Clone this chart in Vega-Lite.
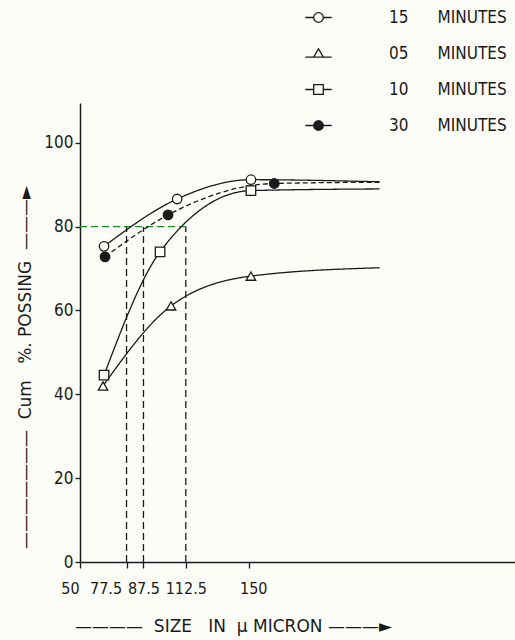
{
  "$schema": "https://vega.github.io/schema/vega-lite/v6.json",
  "width": 435,
  "height": 459,
  "autosize": "none",
  "padding": {"left": 80, "top": 103, "right": 0, "bottom": 78},
  "background": "#fdfdf8",
  "config": {"view": {"stroke": null}, "font": "DejaVu Sans Condensed, Liberation Sans"},
  "datasets": {
    "curves": [
      {"series": "15 MINUTES", "size": 64.2, "pct": 75.3, "measured": true},
      {"series": "15 MINUTES", "size": 107.4, "pct": 86.6, "measured": true},
      {"series": "15 MINUTES", "size": 151, "pct": 91.2, "measured": true},
      {"series": "15 MINUTES", "size": 227, "pct": 90.7, "measured": false},
      {"series": "05 MINUTES", "size": 63.6, "pct": 42.0, "measured": true},
      {"series": "05 MINUTES", "size": 103.8, "pct": 61.1, "measured": true},
      {"series": "05 MINUTES", "size": 151, "pct": 68.2, "measured": true},
      {"series": "05 MINUTES", "size": 227, "pct": 70.2, "measured": false},
      {"series": "10 MINUTES", "size": 64.2, "pct": 44.6, "measured": true},
      {"series": "10 MINUTES", "size": 97.3, "pct": 74.0, "measured": true},
      {"series": "10 MINUTES", "size": 151, "pct": 88.6, "measured": true},
      {"series": "10 MINUTES", "size": 227, "pct": 89.0, "measured": false},
      {"series": "30 MINUTES", "size": 64.8, "pct": 72.8, "measured": true},
      {"series": "30 MINUTES", "size": 102, "pct": 82.8, "measured": true},
      {"series": "30 MINUTES", "size": 164.8, "pct": 90.3, "measured": true},
      {"series": "30 MINUTES", "size": 227, "pct": 90.6, "measured": false}
    ],
    "hguide": [{"from": 50, "to": 112.5, "level": 80}],
    "vguide": [
      {"size": 77.5, "low": 0, "high": 80},
      {"size": 87.5, "low": 0, "high": 80},
      {"size": 112.5, "low": 0, "high": 80}
    ]
  },
  "layer": [
    {
      "data": {"name": "hguide"},
      "mark": {"type": "rule", "stroke": "#1f8a2a", "strokeWidth": 1.4, "strokeDash": [7, 4]},
      "encoding": {
        "x": {
          "field": "from", "type": "quantitative",
          "scale": {"domain": [50, 307], "nice": false, "zero": false},
          "axis": {
            "values": [50, 77.5, 87.5, 112.5, 150],
            "format": ".1~f",
            "grid": false,
            "domainColor": "#1a1a1a", "domainWidth": 1.5,
            "tickColor": "#1a1a1a", "tickWidth": 1.3, "tickSize": 6,
            "labelFontSize": 16, "labelColor": "#1a1a1a", "labelPadding": 12,
            "labelFlush": false, "labelOverlap": false, "labelBound": false,
            "labelOffset": {"condition": [{"test": "datum.value == 50", "value": -10}, {"test": "datum.value == 77.5", "value": -21}, {"test": "datum.value == 150", "value": 4}], "value": 0},
            "title": "\u2014\u2014\u2014\u2014\u00a0 SIZE\u00a0\u00a0 IN\u00a0 \u03bc MICRON\u00a0\u2014\u2014\u2014\u25ba",
            "titleFont": "DejaVu Sans",
            "titleFontSize": 17, "titleFontWeight": "normal", "titleColor": "#1a1a1a",
            "titleX": 153, "titleY": 56
          }
        },
        "x2": {"field": "to"},
        "y": {
          "field": "level", "type": "quantitative",
          "scale": {"domain": [0, 109.5], "nice": false, "zero": true},
          "axis": {
            "values": [0, 20, 40, 60, 80, 100],
            "grid": false,
            "domainColor": "#1a1a1a", "domainWidth": 1.5,
            "tickColor": "#1a1a1a", "tickWidth": 1.3, "tickSize": 5,
            "labelFontSize": 17, "labelColor": "#1a1a1a", "labelPadding": 2,
            "title": "\u2014\u2014\u2014\u2014\u2014\u2014\u2014\u00a0 Cum\u00a0\u00a0 %.\u00a0POSSING\u00a0 \u2014\u2014\u2014\u25ba",
            "titleFont": "DejaVu Sans",
            "titleFontSize": 17, "titleFontWeight": "normal", "titleColor": "#1a1a1a",
            "titleX": -46, "titleY": 264
          }
        }
      }
    },
    {
      "data": {"name": "vguide"},
      "mark": {"type": "rule", "stroke": "#1a1a1a", "strokeWidth": 1.3, "strokeDash": [7, 4]},
      "encoding": {
        "x": {"field": "size", "type": "quantitative"},
        "y": {"field": "low", "type": "quantitative"},
        "y2": {"field": "high"}
      }
    },
    {
      "data": {"name": "curves"},
      "mark": {"type": "line", "interpolate": "monotone", "stroke": "#1a1a1a", "strokeWidth": 1.3},
      "encoding": {
        "x": {"field": "size", "type": "quantitative"},
        "y": {"field": "pct", "type": "quantitative"},
        "detail": {"field": "series"},
        "strokeDash": {
          "field": "series", "type": "nominal",
          "scale": {"domain": ["15 MINUTES", "05 MINUTES", "10 MINUTES", "30 MINUTES"], "range": [[1, 0], [1, 0], [1, 0], [5, 3]]},
          "legend": null
        }
      }
    },
    {
      "data": {"name": "curves"},
      "transform": [{"filter": "datum.measured"}],
      "mark": {"type": "point", "filled": true, "stroke": "#1a1a1a", "strokeWidth": 1.3, "size": 90, "opacity": 1},
      "encoding": {
        "x": {"field": "size", "type": "quantitative"},
        "y": {"field": "pct", "type": "quantitative"},
        "shape": {
          "field": "series", "type": "nominal",
          "scale": {"domain": ["15 MINUTES", "05 MINUTES", "10 MINUTES", "30 MINUTES"], "range": ["circle", "triangle-up", "square", "circle"]},
          "legend": null
        },
        "fill": {
          "field": "series", "type": "nominal",
          "scale": {"domain": ["15 MINUTES", "05 MINUTES", "10 MINUTES", "30 MINUTES"], "range": ["#fdfdf8", "#fdfdf8", "#fdfdf8", "#1a1a1a"]},
          "legend": null
        }
      }
    },
    {
      "data": {"name": "curves"},
      "transform": [{"filter": "false"}],
      "mark": {"type": "point", "filled": false, "stroke": "#1a1a1a", "strokeWidth": 1.3, "size": 144, "opacity": 1},
      "encoding": {
        "shape": {
          "field": "series", "type": "nominal",
          "scale": {
            "domain": ["15 MINUTES", "05 MINUTES", "10 MINUTES", "30 MINUTES"],
            "range": [
              "M-2.2,0H-0.8M0.8,0H2.2M-0.8,0A0.8,0.8 0 1,0 0.8,0A0.8,0.8 0 1,0 -0.8,0Z",
              "M-2.2,0.6H2.2M-0.8,0.6L0,-0.8L0.8,0.6Z",
              "M-2.2,0H-0.8M0.8,0H2.2M-0.8,-0.8H0.8V0.8H-0.8Z",
              "M-2.2,0H-0.8M0.8,0H2.2M-0.8,0A0.8,0.8 0 1,0 0.8,0A0.8,0.8 0 1,0 -0.8,0ZM-0.6,0A0.6,0.6 0 1,0 0.6,0A0.6,0.6 0 1,0 -0.6,0ZM-0.4,0A0.4,0.4 0 1,0 0.4,0A0.4,0.4 0 1,0 -0.4,0ZM-0.2,0A0.2,0.2 0 1,0 0.2,0A0.2,0.2 0 1,0 -0.2,0ZM-0.08,0A0.08,0.08 0 1,0 0.08,0A0.08,0.08 0 1,0 -0.08,0Z"
            ]
          },
          "legend": {
            "orient": "none", "legendX": 230, "legendY": -94,
            "title": null, "padding": 0, "rowPadding": 18,
            "labelFontSize": 17, "labelColor": "#1a1a1a", "labelOffset": 62, "labelLimit": 300,
            "symbolStrokeColor": "#1a1a1a", "symbolStrokeWidth": 1.3, "symbolSize": 144, "symbolOpacity": 1,
            "labelExpr": "replace(datum.label, ' ', '\u00a0\u00a0\u00a0\u00a0\u00a0 ')"
          }
        }
      }
    }
  ],
  "resolve": {"scale": {"shape": "independent", "fill": "independent"}}
}
